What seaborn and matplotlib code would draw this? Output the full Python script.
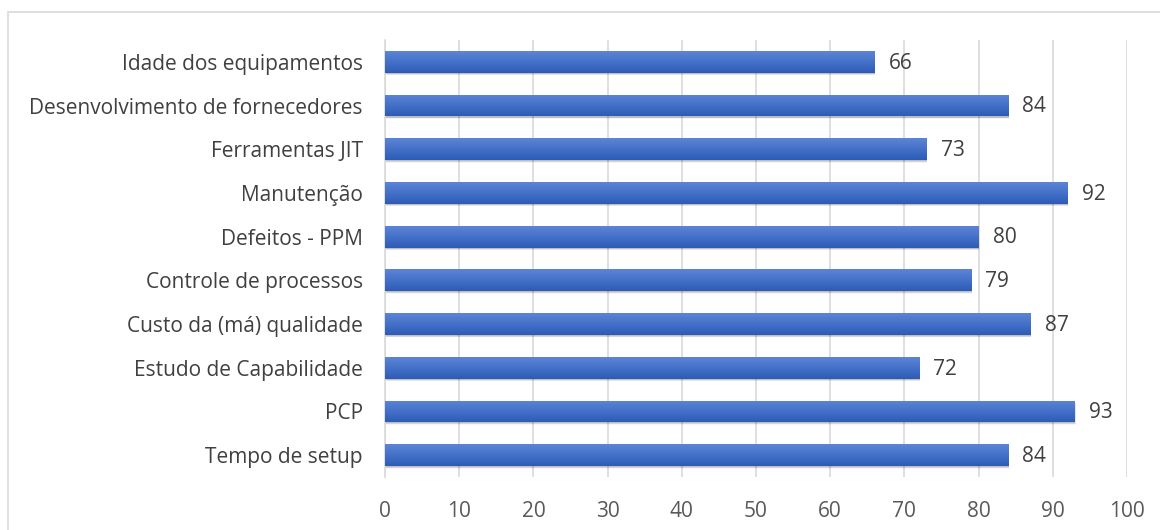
import numpy as np
import pandas as pd
import matplotlib
matplotlib.use("Agg")
import matplotlib.pyplot as plt
from matplotlib.patches import Rectangle
from matplotlib.colors import LinearSegmentedColormap
import seaborn as sns

categories = [
    "Idade dos equipamentos",
    "Desenvolvimento de fornecedores",
    "Ferramentas JIT",
    "Manutenção",
    "Defeitos - PPM",
    "Controle de processos",
    "Custo da (má) qualidade",
    "Estudo de Capabilidade",
    "PCP",
    "Tempo de setup",
]
values = [66, 84, 73, 92, 80, 79, 87, 72, 93, 84]
x_ticks = [0, 10, 20, 30, 40, 50, 60, 70, 80, 90, 100]

df = pd.DataFrame({"categoria": categories, "valor": values})

sns.set_theme(style="white")
plt.rcParams["font.family"] = ["Open Sans", "DejaVu Sans"]

fig = plt.figure(figsize=(11.6, 5.3), dpi=100)
ax = fig.add_axes([0.332, 0.10, 0.6395, 0.8245])

sns.barplot(data=df, x="valor", y="categoria", orient="h", width=0.5,
            color="#4472c4", saturation=1, linewidth=0, ax=ax, zorder=3)

# vertical gradient + soft drop shadow on each bar
grad = LinearSegmentedColormap.from_list("bar", ["#5d84d6", "#4471c8", "#2d5bb6"])
gimg = np.linspace(0, 1, 128).reshape(-1, 1)
for p in list(ax.patches):
    x0, y0 = p.get_x(), p.get_y()
    w, h = p.get_width(), p.get_height()
    for i, a in enumerate([0.10, 0.08, 0.06, 0.04]):
        d = 0.35 + i * 0.15
        sh = Rectangle((x0 + d * 0.12, y0 + d * 0.07), w, h, facecolor="black",
                       alpha=a, edgecolor="none", zorder=2)
        ax.add_patch(sh)
    im = ax.imshow(gimg, cmap=grad, aspect="auto", extent=(x0, x0 + w, y0 + h, y0),
                   zorder=4, interpolation="bilinear")
    im.set_clip_path(p)

for i, v in enumerate(values):
    ax.text(v + 1.9, i + 0.03, f"{v}", va="center", ha="left", fontsize=15,
            color="#404040", zorder=5)

ax.set_xlim(0, 100)
ax.set_ylim(len(categories) - 0.5, -0.5)
ax.set_xticks(x_ticks)
ax.set_xlabel("")
ax.set_ylabel("")
ax.xaxis.grid(True, color="#d9d9d9", linewidth=1.2, zorder=0)
ax.yaxis.grid(False)
ax.set_axisbelow(True)
for s in ["top", "right", "bottom"]:
    ax.spines[s].set_visible(False)
ax.spines["left"].set_color("#d9d9d9")
ax.spines["left"].set_linewidth(1.2)
ax.tick_params(axis="x", length=0, pad=17, labelsize=15, labelcolor="#595959")
ax.tick_params(axis="y", length=0, pad=16, labelsize=15, labelcolor="#404040")

# chart area border
fig.add_artist(Rectangle((8 / 1160, -0.05), 1.2, 1 - 12 / 530 + 0.05,
                         transform=fig.transFigure, facecolor="none",
                         edgecolor="#d9d9d9", linewidth=1.2, clip_on=False))

fig.savefig("out.png", dpi=100)
